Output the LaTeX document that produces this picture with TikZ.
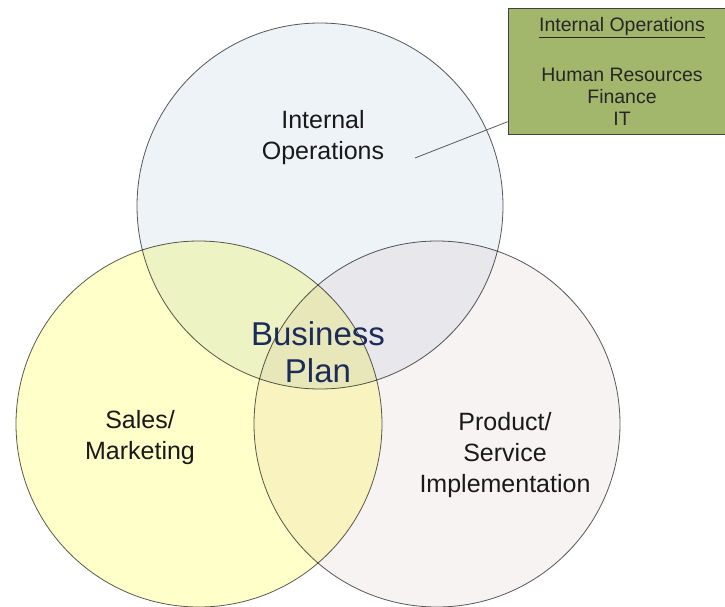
\documentclass[tikz,border=0pt]{standalone}
\usepackage{fontspec}
\setmainfont{Liberation Sans}
\usetikzlibrary{positioning}
\usetikzlibrary{calc}

\definecolor{opsblue}{HTML}{EEF3F8}
\definecolor{salesyellow}{HTML}{FFFFC9}
\definecolor{prodpink}{HTML}{F8F3F3}
\definecolor{ringgray}{HTML}{5A5A5A}
\definecolor{boxgreen}{HTML}{A2B76C}
\definecolor{plannavy}{HTML}{1C2C5A}

\begin{document}
\begin{tikzpicture}[x=0.75pt,y=-0.75pt,
  ring/.style={draw=ringgray, line width=0.6pt, fill=#1, blend mode=multiply},
  circtext/.style={align=center, text=black!90, font=\fontsize{18.75}{23.25}\selectfont},
  plantext/.style={align=center, text=plannavy, font=\fontsize{24.75}{27.75}\selectfont},
  infobox/.style={draw=black!75, line width=0.6pt, fill=boxgreen, align=center,
    text=black!85, font=\fontsize{14.6}{16.5}\selectfont,
    minimum width=171pt, minimum height=94.5pt, inner sep=0pt}]
\useasboundingbox (0,0) rectangle (725,607);
\fill[white] (0,0) rectangle (725,607);

%circles
\draw[ring=opsblue] (320,206) circle (183);%internal operations
\draw[ring=salesyellow] (199,424) circle (183);%sales
\draw[ring=prodpink] (437,424) circle (183);%product

%labels
\node[circtext] (io) at (323,138) {Internal\\Operations};
\node[circtext] (sm) at (140,438) {Sales/\\Marketing};
\node[circtext] (ps) at (505,455) {Product/\\Service\\Implementation};
\node[plantext] (bp) at (318,352) {Business\\Plan};

%callout
\node[infobox] (ops) at (622,71) {\underline{Internal Operations}\\[21pt]Human Resources\\Finance\\IT};
\coordinate (ioend) at (415,158);
\draw[ringgray, line width=0.6pt] (ioend) -- ($(ops.south west)!0.1!(ops.north west)$);

\end{tikzpicture}
\end{document}
